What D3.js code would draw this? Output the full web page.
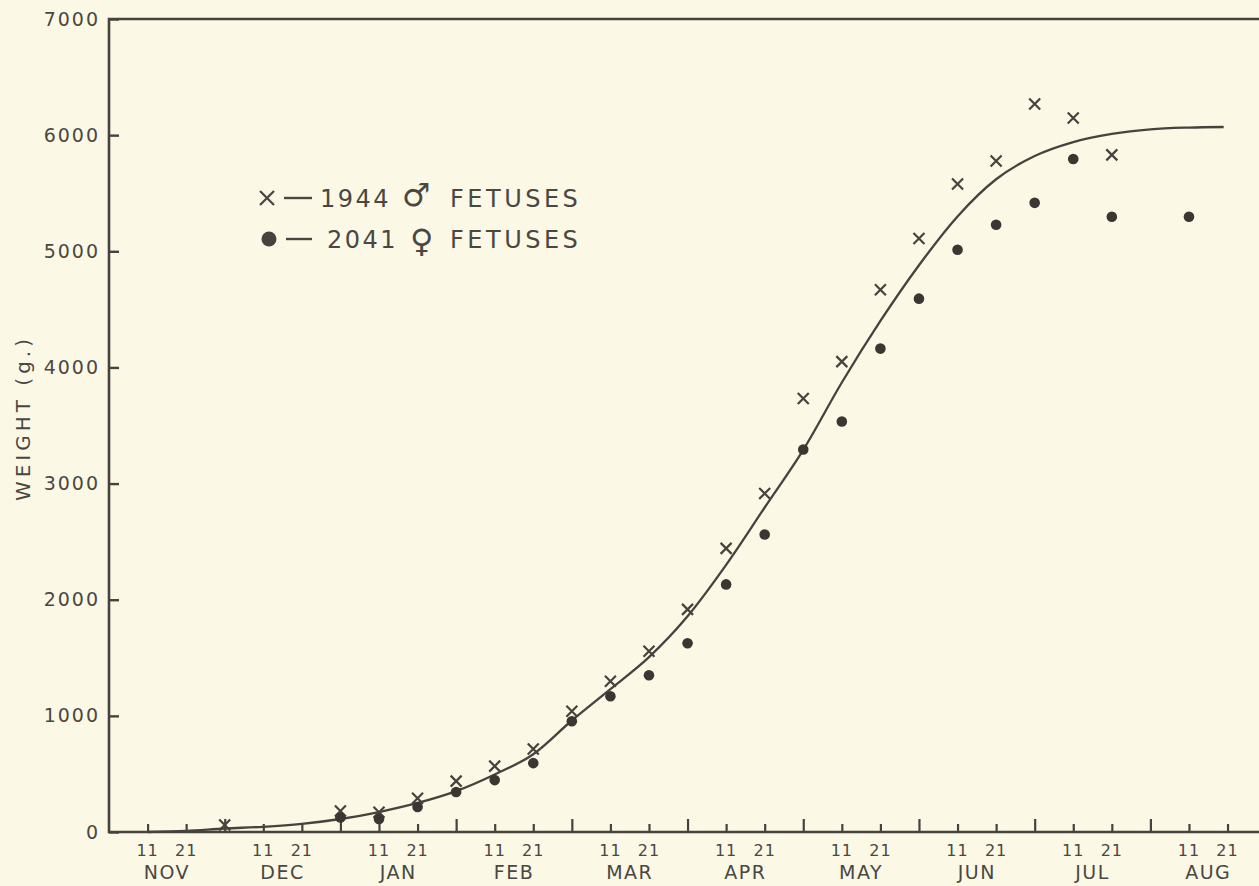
<!DOCTYPE html>
<html>
<head>
<meta charset="utf-8">
<script src="https://cdn.jsdelivr.net/npm/d3@7"></script>
<style>
  body { margin: 0; background: #fbf8e6; }
  svg { display: block; }
  text { font-family: "DejaVu Sans", sans-serif; fill: #4a4743; }
</style>
</head>
<body>
<svg id="chart"></svg>
<script>
let outerWidth = 1259;
let outerHeight = 886;
let margins = { top: 19, left: 109, bottom: 54 };
let plotBottom = outerHeight - margins.bottom;
let periodWidth = 38.57;   // one 10-day step on the x axis
let ink = '#46423e';

// x is counted in 10-day periods from Nov 1 (1st, 11th, 21st of each month)
let monthNames = ['NOV', 'DEC', 'JAN', 'FEB', 'MAR', 'APR', 'MAY', 'JUN', 'JUL', 'AUG'];
let dayLabels = ['11', '21'];
let weightTicks = [0, 1000, 2000, 3000, 4000, 5000, 6000, 7000];

// male fetuses (X)
let malePeriod = [3, 6, 7, 8, 9, 10, 11, 12, 13, 14, 15, 16, 17, 18, 19, 20, 21, 22, 23, 24, 25, 26];
let maleWeight = [60, 180, 170, 290, 438, 567, 714, 1040, 1298, 1556, 1917, 2442, 2915, 3732, 4050, 4669, 5110, 5580, 5778, 6268, 6148, 5830];

// female fetuses (dots)
let femalePeriod = [6, 7, 8, 9, 10, 11, 12, 13, 14, 15, 16, 17, 18, 19, 20, 21, 22, 23, 24, 25, 26, 28];
let femaleWeight = [125, 112, 215, 344, 447, 593, 954, 1169, 1350, 1625, 2132, 2562, 3293, 3534, 4162, 4592, 5013, 5228, 5417, 5795, 5297, 5297];

// fitted growth curve
let curvePeriod = [1, 2, 3, 4, 5, 6, 7, 8, 9, 10, 11, 12, 13, 14, 15, 16, 17, 18, 19, 20, 21, 22, 23, 24, 25, 26, 27, 28, 28.9];
let curveWeight = [0, 10, 30, 45, 70, 112, 172, 250, 352, 495, 670, 960, 1230, 1505, 1857, 2300, 2794, 3290, 3870, 4400, 4880, 5300, 5620, 5820, 5940, 6010, 6050, 6065, 6070];

let legendRows = [
  { marker: 'x', count: '1944', sex: '\u2642', label: 'FETUSES' },
  { marker: 'dot', count: '2041', sex: '\u2640', label: 'FETUSES' }
];

let svg = d3.select('#chart')
  .attr('width', outerWidth)
  .attr('height', outerHeight);

svg.append('rect')
  .attr('width', outerWidth)
  .attr('height', outerHeight)
  .attr('fill', '#fbf8e6');

let xScale = d3.scaleLinear()
  .domain([0, 30])
  .range([margins.left, margins.left + 30 * periodWidth]);

let yScale = d3.scaleLinear()
  .domain([0, 7000])
  .range([plotBottom, margins.top]);

// frame: left, top, bottom
svg.append('path')
  .attr('d', `M${outerWidth},${margins.top}H${margins.left}V${plotBottom}H${outerWidth}`)
  .attr('fill', 'none')
  .attr('stroke', ink)
  .attr('stroke-width', 2.6);

// y axis ticks + labels
let yAxis = d3.axisLeft(yScale)
  .tickValues(weightTicks)
  .tickSizeInner(-10)
  .tickSizeOuter(0)
  .tickPadding(11)
  .tickFormat(d3.format('d'));

let yG = svg.append('g')
  .attr('transform', 'translate(' + margins.left + ',0)')
  .call(yAxis);
yG.select('.domain').remove();
yG.selectAll('line').attr('stroke', ink).attr('stroke-width', 2.4);
yG.selectAll('text')
  .style('font-size', '19px')
  .style('letter-spacing', '2px')
  .attr('fill', '#4a4743')
  .attr('dx', '2px');

// x axis: short ticks at 11th / 21st, taller ones at the 1st of each month
let minorTicks = d3.range(1, 30).filter(d => d % 3 !== 0);
let majorTicks = d3.range(3, 30, 3);

let xMinor = svg.append('g')
  .attr('transform', 'translate(0,' + plotBottom + ')')
  .call(d3.axisBottom(xScale).tickValues(minorTicks).tickSizeInner(-8).tickSizeOuter(0).tickFormat(''));
let xMajor = svg.append('g')
  .attr('transform', 'translate(0,' + plotBottom + ')')
  .call(d3.axisBottom(xScale).tickValues(majorTicks).tickSizeInner(-13).tickSizeOuter(0).tickFormat(''));
[xMinor, xMajor].forEach(g => {
  g.select('.domain').remove();
  g.selectAll('line').attr('stroke', ink).attr('stroke-width', 2.2);
});

// day numbers under the ticks
let dayData = [];
monthNames.forEach((m, i) => {
  dayLabels.forEach((d, j) => dayData.push({ period: i * 3 + j + 1, label: d }));
});
svg.append('g')
  .selectAll('text')
  .data(dayData)
  .enter()
  .append('text')
  .attr('x', d => xScale(d.period))
  .attr('y', plotBottom + 24)
  .attr('text-anchor', 'middle')
  .style('font-size', '16px')
  .style('letter-spacing', '1px')
  .text(d => d.label);

// month names centred between the 11 and 21 ticks
svg.append('g')
  .selectAll('text')
  .data(monthNames)
  .enter()
  .append('text')
  .attr('x', (d, i) => xScale(i * 3 + 1.5))
  .attr('y', plotBottom + 47)
  .attr('text-anchor', 'middle')
  .style('font-size', '19px')
  .style('letter-spacing', '1.5px')
  .text(d => d);

// y axis title
svg.append('text')
  .attr('transform', 'translate(30,418) rotate(-90)')
  .attr('text-anchor', 'middle')
  .style('font-size', '20px')
  .style('letter-spacing', '4px')
  .text('WEIGHT (g.)');

// fitted curve
let line = d3.line()
  .x((d, i) => xScale(curvePeriod[i]))
  .y(d => yScale(d))
  .curve(d3.curveMonotoneX);

svg.append('path')
  .attr('d', line(curveWeight))
  .attr('fill', 'none')
  .attr('stroke', ink)
  .attr('stroke-width', 2.3);

// cross marker path
function cross(s) {
  return `M${-s},${-s}L${s},${s}M${s},${-s}L${-s},${s}`;
}

svg.append('g')
  .selectAll('path')
  .data(maleWeight)
  .enter()
  .append('path')
  .attr('transform', (d, i) => 'translate(' + xScale(malePeriod[i]) + ',' + yScale(d) + ')')
  .attr('d', cross(5.5))
  .attr('stroke', ink)
  .attr('stroke-width', 2.2);

svg.append('g')
  .selectAll('circle')
  .data(femaleWeight)
  .enter()
  .append('circle')
  .attr('cx', (d, i) => xScale(femalePeriod[i]))
  .attr('cy', d => yScale(d))
  .attr('r', 5.3)
  .attr('fill', '#3a3632');

// legend
let legend = svg.append('g');
legendRows.forEach((r, i) => {
  let base = 207 + i * 41;
  let row = legend.append('g');
  if (r.marker === 'x') {
    row.append('path')
      .attr('transform', 'translate(267,' + (base - 9) + ')')
      .attr('d', cross(7))
      .attr('stroke', '#4a4743')
      .attr('stroke-width', 2.3);
  } else {
    row.append('circle')
      .attr('cx', 269)
      .attr('cy', base - 9)
      .attr('r', 7.5)
      .attr('fill', '#46423e');
  }
  row.append('line')
    .attr('x1', 284 + i * 2)
    .attr('x2', 312)
    .attr('y1', base - 9)
    .attr('y2', base - 9)
    .attr('stroke', '#4a4743')
    .attr('stroke-width', 2.4);
  row.append('text')
    .attr('x', i === 0 ? 320 : 327)
    .attr('y', base)
    .style('font-size', '24px')
    .style('letter-spacing', '2.5px')
    .text(r.count);
  row.append('text')
    .attr('x', i === 0 ? 402 : 410)
    .attr('y', base + (i === 0 ? -1 : 4))
    .style('font-size', '32px')
    .text(r.sex);
  row.append('text')
    .attr('x', 450)
    .attr('y', base)
    .style('font-size', '24px')
    .style('letter-spacing', '3.5px')
    .text(r.label);
});
</script>
</body>
</html>
